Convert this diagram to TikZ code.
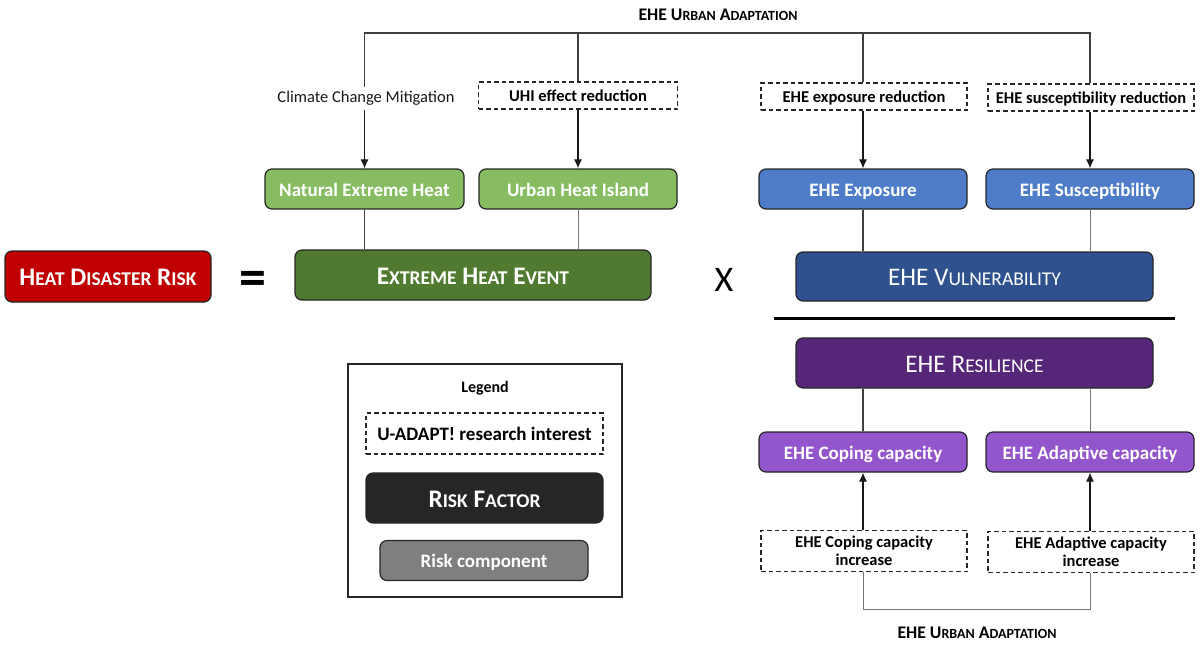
\documentclass[tikz,border=0pt]{standalone}
\usepackage{fontspec}
\setmainfont{Carlito}
\definecolor{cred}{HTML}{C00000}
\definecolor{cdgreen}{HTML}{4F7A30}
\definecolor{clgreen}{HTML}{87BC62}
\definecolor{cblue}{HTML}{4F7CC8}
\definecolor{cdblue}{HTML}{2F528F}
\definecolor{cdpurple}{HTML}{562678}
\definecolor{cpurple}{HTML}{9355CC}
\definecolor{cblack}{HTML}{262626}
\definecolor{cgray}{HTML}{7F7F7F}
\usetikzlibrary{arrows.meta}
% manual small capitals: the family has no small-cap feature
\newcommand{\lowcaps}[1]{{\fontsize{\lowsize}{\lowsize}\selectfont #1}}
\newcommand{\capsA}{\def\lowsize{19.5}\fontsize{25.3}{28}\selectfont}
\newcommand{\capsB}{\def\lowsize{14}\fontsize{17.7}{20}\selectfont}
\tikzset{
  x=1pt,y=-1pt,
  box/.style={draw=black!85,line width=1.2pt,rounded corners=7pt,text=white,align=center,inner sep=0pt},
  factor/.style={box,minimum height=50pt,text height=19pt,text depth=1pt,font=\capsA},
  factorb/.style={box,minimum height=50pt,text height=19pt,text depth=1pt,font=\capsA\bfseries},
  comp/.style={box,minimum height=40pt,minimum width=208pt,text height=17pt,text depth=3pt,font=\fontsize{19}{22}\selectfont\bfseries},
  dbox/.style={draw=black!85,line width=1.1pt,dash pattern=on 4.5pt off 3pt,align=center,inner sep=0pt,minimum width=206pt,minimum height=27pt,font=\fontsize{16.5}{18}\selectfont\bfseries,text=black},
  donel/.style={dbox,text height=14pt,text depth=3pt},
  head/.style={font=\capsB\bfseries,text=black,inner sep=0pt},
  conn/.style={draw=black!75,line width=1.2pt},
  thin conn/.style={draw=black!55,line width=1pt},
  arr/.style={draw=black!90,line width=1.1pt,-{Latex[length=9pt,width=8pt]}},
}
\begin{document}
\begin{tikzpicture}
\useasboundingbox (0,0) rectangle (1200,646);
% title labels
\node[head] (topt) at (718,15) {EHE U\lowcaps{RBAN} A\lowcaps{DAPTATION}};
\node[head] (bott) at (977,633) {EHE U\lowcaps{RBAN} A\lowcaps{DAPTATION}};
% main
\node[factorb,fill=cred,minimum width=206pt,minimum height=51pt] (risk) at (108,276.5) {H\lowcaps{EAT} D\lowcaps{ISASTER} R\lowcaps{ISK}};
\node[font=\fontsize{54}{54}\selectfont\bfseries,inner sep=0pt] (eq) at (253,283) {=};
\node[factorb,fill=cdgreen,minimum width=356pt] (ehe) at (473,275) {E\lowcaps{XTREME} H\lowcaps{EAT} E\lowcaps{VENT}};
\node[font=\fontsize{36}{36}\selectfont,inner sep=0pt] (times) at (724,280) {X};
\node[factor,fill=cdblue,minimum width=357pt,minimum height=49pt] (vuln) at (974.5,276.5) {EHE V\lowcaps{ULNERABILITY}};
\node[factor,fill=cdpurple,minimum width=357pt] (res) at (974.5,363) {EHE R\lowcaps{ESILIENCE}};
\coordinate (barl) at (774,318);
\coordinate (barr) at (1175,318);
\draw[line width=3pt,black] (barl) -- (barr);
% components
\node[comp,fill=clgreen,minimum width=199pt] (neh) at (364.5,189) {Natural Extreme Heat};
\node[comp,fill=clgreen,minimum width=198pt] (uhi) at (578,189) {Urban Heat Island};
\node[comp,fill=cblue] (exp) at (863,189) {EHE Exposure};
\node[comp,fill=cblue] (sus) at (1090,189) {EHE Susceptibility};
\node[comp,fill=cpurple] (cop) at (863,452) {EHE Coping capacity};
\node[comp,fill=cpurple] (ada) at (1090,452) {EHE Adaptive capacity};
% actions
\node[font=\fontsize{16.5}{18}\selectfont,inner sep=0pt,minimum height=23pt,minimum width=178pt,text=black!90] (ccm) at (366,98.5) {Climate Change Mitigation};
\node[donel,minimum width=199pt] (duhi) at (578,95.5) {UHI effect reduction};
\node[donel] (dexp) at (864,96.5) {EHE exposure reduction};
\node[donel] (dsus) at (1091,97.5) {EHE susceptibility reduction};
\node[dbox,minimum height=41pt] (dcop) at (864,551) {EHE Coping capacity\\[0pt]increase};
\node[dbox,minimum height=41pt] (dada) at (1091,552) {EHE Adaptive capacity\\[0pt]increase};
% bus
\coordinate (b1) at (364.5,33);
\coordinate (b2) at (578,33);
\coordinate (b3) at (863,33);
\coordinate (b4) at (1090,33);
\coordinate (c1) at (863,609);
\coordinate (c2) at (1090,609);
\draw[conn] (b2 |- duhi.north) -- (b2) (b3 |- dexp.north) -- (b3);
\draw[conn,line join=miter] (b1 |- ccm.north) -- (b1) -- (b4) -- (b4 |- dsus.north);
\draw[arr] (neh.north |- ccm.south) -- (neh.north);
\draw[arr] (uhi.north |- duhi.south) -- (uhi.north);
\draw[arr] (exp.north |- dexp.south) -- (exp.north);
\draw[arr] (sus.north |- dsus.south) -- (sus.north);
\draw[conn] (neh.south) -- (neh.south |- ehe.north);
\draw[thin conn] (uhi.south) -- (uhi.south |- ehe.north);
\draw[conn] (exp.south) -- (exp.south |- vuln.north);
\draw[thin conn] (sus.south) -- (sus.south |- vuln.north);
\draw[conn] (cop.north) -- (cop.north |- res.south);
\draw[thin conn] (ada.north) -- (ada.north |- res.south);
\draw[arr] (cop.south |- dcop.north) -- (cop.south);
\draw[arr] (ada.south |- dada.north) -- (ada.south);
\draw[thin conn] (c1 |- dcop.south) -- (c1) -- (c2) -- (c2 |- dada.south);
% legend
\node[draw=black!85,line width=1.2pt,minimum width=274pt,minimum height=233pt,inner sep=0pt] (legend) at (485,480.5) {};
\node[font=\fontsize{16}{18}\selectfont\bfseries,inner sep=0pt] (legt) at (485,388) {Legend};
\node[dbox,minimum width=237pt,minimum height=41pt,text height=17pt,text depth=3pt,font=\fontsize{19}{22}\selectfont\bfseries] (ld) at (484.5,433.5) {U-ADAPT! research interest};
\node[factorb,fill=cblack,minimum width=237pt] (lf) at (484.5,498) {R\lowcaps{ISK} F\lowcaps{ACTOR}};
\node[comp,fill=cgray] (lc) at (484,560.5) {Risk component};
\end{tikzpicture}
\end{document}
